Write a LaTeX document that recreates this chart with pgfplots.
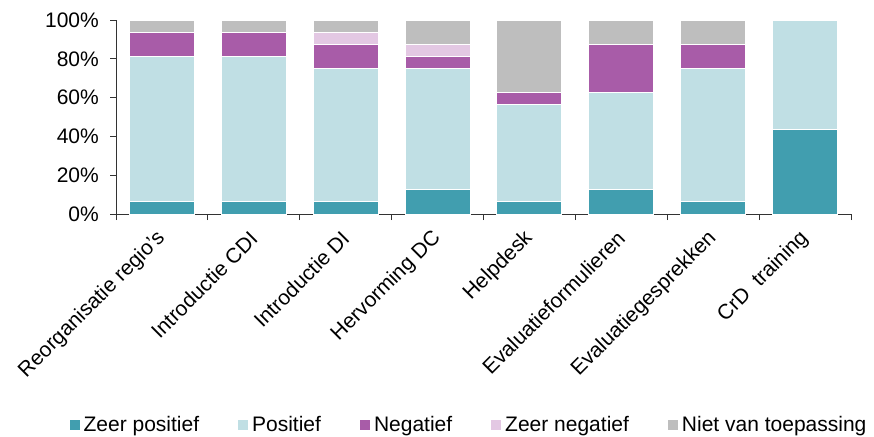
\documentclass[border=0pt]{standalone}
\usepackage{pgfplots}
\pgfplotsset{compat=1.18}
\usepackage{fontspec}
\setmainfont{Liberation Sans}
\definecolor{zpos}{HTML}{419EAF}
\definecolor{pos}{HTML}{C0DFE4}
\definecolor{neg}{HTML}{A85CA8}
\definecolor{zneg}{HTML}{E3C8E3}
\definecolor{niet}{HTML}{BEBEBE}
\newcommand{\yl}[1]{#1\%\hspace*{11pt}}
\begin{document}
\begin{tikzpicture}
\begin{axis}[
  scale only axis,
  width=735pt, height=194pt,
  ybar stacked,
  bar width=65pt,
  xmin=-0.5, xmax=7.5,
  ymin=0, ymax=100,
  axis x line*=bottom,
  axis y line*=left,
  axis line style={black!80, line width=0.8pt},
  tick align=outside,
  major tick length=6pt,
  tick style={black!80, line width=0.8pt},
  xtick={-0.5,0.5,...,7.5},
  xticklabels={},
  extra x ticks={0,...,7},
  extra x tick labels={Reorganisatie regio's, Introductie CDI, Introductie DI, Hervorming DC, Helpdesk, Evaluatieformulieren, Evaluatiegesprekken, CrD\ \ training},
  extra x tick style={major tick length=0pt,
    xticklabel style={font=\fontsize{21}{25}\selectfont, inner sep=0pt, yshift=-21pt, rotate=45, anchor=east}},
  ytick={0,20,40,60,80,100},
  yticklabels={\yl{0},\yl{20},\yl{40},\yl{60},\yl{80},\yl{100}},
  yticklabel style={font=\fontsize{21}{25}\selectfont, inner sep=0pt},
  legend columns=5,
  legend style={draw=none, fill=none, at={(0.4796,-1.0876)}, anchor=center,
    font=\fontsize{21}{25}\selectfont,
    nodes={inner sep=1pt},
    /tikz/every odd column/.append style={column sep=3pt},
    /tikz/every even column/.append style={column sep=38pt}},
  legend image code/.code={\fill[#1, draw=none] (0pt,-5pt) rectangle (10pt,5pt);},
  every axis plot/.append style={draw=white, line width=1pt},
]
\addplot[fill=zpos] coordinates {(0,6.25) (1,6.25) (2,6.25) (3,12.5) (4,6.25) (5,12.5) (6,6.25) (7,43.75)};
\addplot[fill=pos] coordinates {(0,75) (1,75) (2,68.75) (3,62.5) (4,50) (5,50) (6,68.75) (7,56.25)};
\addplot[fill=neg] coordinates {(0,12.5) (1,12.5) (2,12.5) (3,6.25) (4,6.25) (5,25) (6,12.5) (7,0)};
\addplot[fill=zneg] coordinates {(0,0) (1,0) (2,6.25) (3,6.25) (4,0) (5,0) (6,0) (7,0)};
\addplot[fill=niet] coordinates {(0,6.25) (1,6.25) (2,6.25) (3,12.5) (4,37.5) (5,12.5) (6,12.5) (7,0)};
\legend{Zeer positief, Positief, Negatief, Zeer negatief, Niet van toepassing}
\end{axis}
\path[use as bounding box] (-116pt,-221pt) rectangle (758pt,214pt);
\end{tikzpicture}
\end{document}
